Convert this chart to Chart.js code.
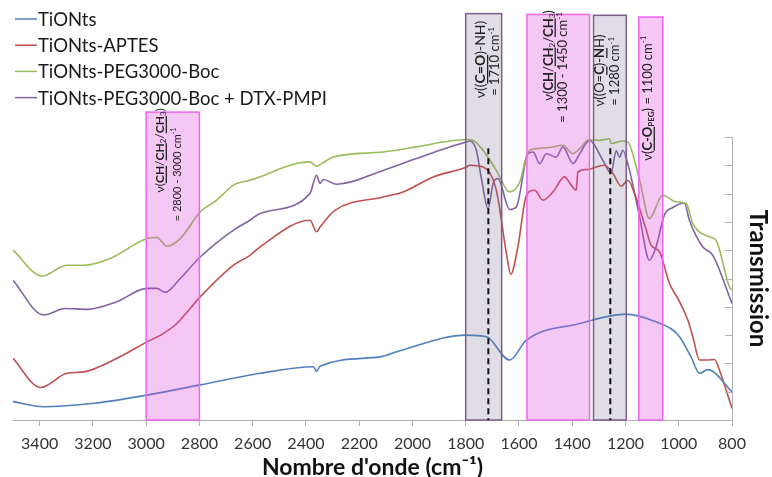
<!DOCTYPE html>
<html>
<head>
<meta charset="utf-8">
<script src="https://cdn.jsdelivr.net/npm/chart.js@4.4.1/dist/chart.umd.min.js"></script>
<style>
  html, body { margin: 0; padding: 0; background: #fff; }
</style>
</head>
<body>
<canvas id="myChart" width="772" height="477"></canvas>
<script>
// x axis tick labels (wavenumber, cm-1)
const xTicks = [3400, 3200, 3000, 2800, 2600, 2400, 2200, 2000, 1800, 1600, 1400, 1200, 1000, 800];

// TiONts (blue)
const tiontsWn = [3500, 3385, 3197, 2997, 2797, 2572, 2372, 2360, 2347, 2122, 2047, 1797, 1722, 1635, 1572, 1372, 1197, 1085, 1022, 997, 954, 922, 891, 800];
const tiontsT  = [0.65, 0.47, 0.59, 0.88, 1.24, 1.65, 1.88, 1.72, 1.90, 2.23, 2.45, 3.00, 2.94, 2.12, 2.82, 3.41, 3.74, 3.47, 3.18, 2.94, 2.23, 1.65, 1.78, 1.00];

// TiONts-APTES (red)
const aptesWn = [3500, 3397, 3297, 3235, 3110, 2997, 2935, 2885, 2797, 2672, 2610, 2572, 2385, 2360, 2347, 2291, 2110, 2035, 1922, 1797, 1785, 1735, 1685, 1647, 1631, 1604, 1572, 1541, 1510, 1472, 1429, 1404, 1385, 1379, 1347, 1280, 1247, 1216, 1191, 1166, 1122, 1104, 1072, 1035, 997, 966, 947, 922, 891, 866, 847, 800];
const aptesT  = [2.18, 1.15, 1.65, 1.70, 2.18, 2.76, 3.06, 3.41, 4.35, 5.47, 5.82, 6.12, 7.06, 6.65, 6.82, 7.41, 7.88, 8.06, 8.59, 8.94, 9.00, 8.94, 8.12, 5.88, 5.15, 6.12, 7.94, 8.12, 7.77, 8.06, 8.59, 8.30, 8.12, 8.76, 8.85, 9.00, 8.71, 8.26, 8.47, 8.00, 6.71, 6.18, 5.94, 4.83, 4.18, 3.53, 2.94, 2.12, 2.12, 2.14, 1.76, 0.41];

// TiONts-PEG3000-Boc (green)
const pegWn = [3500, 3391, 3297, 3235, 3135, 2997, 2960, 2922, 2872, 2797, 2735, 2672, 2610, 2385, 2360, 2341, 2297, 2110, 1985, 1880, 1797, 1772, 1735, 1685, 1635, 1597, 1566, 1535, 1485, 1435, 1397, 1372, 1335, 1297, 1260, 1254, 1210, 1191, 1147, 1110, 1060, 1010, 972, 947, 885, 860, 810, 800];
const pegT  = [6.00, 5.09, 5.47, 5.47, 5.71, 6.41, 6.45, 6.14, 6.41, 7.35, 7.77, 8.30, 8.47, 9.12, 8.97, 9.06, 9.29, 9.47, 9.65, 9.83, 9.91, 9.88, 9.53, 8.82, 8.06, 8.41, 9.47, 9.59, 9.63, 9.71, 9.41, 9.59, 9.91, 9.88, 9.94, 9.77, 9.86, 9.82, 8.47, 7.12, 7.94, 7.71, 7.65, 6.94, 6.47, 6.35, 4.71, 4.59];

// TiONts-PEG3000-Boc + DTX-PMPI (purple)
const dtxWn = [3500, 3385, 3304, 3222, 3110, 2997, 2960, 2929, 2872, 2797, 2672, 2610, 2572, 2385, 2360, 2347, 2335, 2285, 2110, 1985, 1860, 1797, 1785, 1760, 1741, 1716, 1697, 1679, 1635, 1610, 1566, 1547, 1522, 1497, 1460, 1435, 1397, 1372, 1335, 1285, 1254, 1235, 1222, 1210, 1185, 1147, 1110, 1085, 1054, 1022, 979, 960, 910, 872, 800];
const dtxT  = [4.94, 3.71, 3.94, 3.91, 4.18, 4.65, 4.65, 4.51, 5.00, 5.76, 6.71, 7.06, 7.30, 8.00, 8.65, 8.36, 8.50, 8.33, 8.82, 9.24, 9.65, 9.82, 9.86, 9.53, 8.53, 7.47, 8.36, 8.53, 7.44, 7.53, 9.41, 9.47, 9.06, 9.41, 9.29, 9.65, 9.06, 9.41, 9.88, 9.18, 8.71, 9.51, 9.29, 9.53, 8.82, 7.18, 5.65, 6.12, 7.24, 7.51, 7.67, 7.06, 6.12, 5.82, 4.12];

const seriesNames = ['TiONts', 'TiONts-APTES', 'TiONts-PEG3000-Boc', 'TiONts-PEG3000-Boc + DTX-PMPI'];
const seriesColors = ['#4F81BD', '#C0504D', '#9BBB59', '#8064A2'];

// highlighted bands [from, to, top] in axis units, kind = magenta / gray
const bands = [
  { from: 3000, to: 2800, top: 10.88, kind: 'magenta' },
  { from: 1800, to: 1665, top: 14.36, kind: 'gray' },
  { from: 1570, to: 1335, top: 14.33, kind: 'magenta' },
  { from: 1320, to: 1197, top: 14.30, kind: 'gray' },
  { from: 1150, to: 1060, top: 14.24, kind: 'magenta' }
];
const dashedAt = [1715, 1257];
const dashedTop = 9.6;

// band labels : x, y = centre of the rotated line, in axis units
const sub = t => ({ t, s: 'sub' });
const sup = t => ({ t, s: 'sup' });
const bu = t => ({ t, b: true, u: true });
const bandLabels = [
  { x: 2950, y: 9.53, size: 12, parts: [{ t: 'ν(' }, bu('CH'), { t: '/' }, bu('CH'), sub('2'), { t: '/' }, bu('CH'), sub('3'), { t: ')' }] },
  { x: 2884, y: 8.68, size: 11, parts: [{ t: '= 2800 - 3000 cm' }, sup('-1')] },
  { x: 1746, y: 12.74, size: 14, parts: [{ t: 'ν((' }, bu('C=O'), { t: ')-NH)' }] },
  { x: 1691, y: 12.67, size: 13, parts: [{ t: '= 1710 cm' }, sup('-1')] },
  { x: 1491, y: 12.88, size: 13, parts: [{ t: 'ν(' }, bu('CH'), { t: '/' }, bu('CH'), sub('2'), { t: '/' }, bu('CH'), sub('3'), { t: ')' }] },
  { x: 1436, y: 12.46, size: 13, parts: [{ t: '= 1300 - 1450 cm' }, sup('-1')] },
  { x: 1297, y: 12.35, size: 13, parts: [{ t: 'ν((O=' }, bu('C'), { t: ')-' }, bu('N'), { t: 'H)' }] },
  { x: 1242, y: 12.32, size: 13, parts: [{ t: '= 1280 cm' }, sup('-1')] },
  { x: 1119, y: 11.37, size: 13, parts: [{ t: 'ν(' }, bu('C-O'), { t: 'PEG', s: 'sub', b: true }, { t: ') = 1100 cm' }, sup('-1')] }
];

const FONT = 'Lato, "Open Sans", sans-serif';

function zip(xs, ys) {
  return xs.map((x, i) => ({ x: x, y: ys[i] }));
}

function drawRich(ctx, parts, cx, cy, size) {
  const fontFor = p => (p.b ? 'bold ' : '') + (p.s ? Math.round(size * 0.65) : size) + 'px ' + FONT;
  let total = 0;
  parts.forEach(p => {
    ctx.font = fontFor(p);
    p.w = ctx.measureText(p.t).width;
    total += p.w;
  });
  ctx.save();
  ctx.translate(cx, cy);
  ctx.rotate(-Math.PI / 2);
  ctx.textBaseline = 'alphabetic';
  ctx.fillStyle = '#222';
  let x = -total / 2;
  const base = size * 0.35;
  parts.forEach(p => {
    ctx.font = fontFor(p);
    let dy = base;
    if (p.s === 'sub') dy = base + size * 0.2;
    if (p.s === 'sup') dy = base - size * 0.4;
    ctx.fillText(p.t, x, dy);
    if (p.u) ctx.fillRect(x, base + 2, p.w, 1.3);
    x += p.w;
  });
  ctx.restore();
}

const annotations = {
  id: 'annotations',
  afterDatasetsDraw(chart) {
    const ctx = chart.ctx;
    const xs = chart.scales.x, ys = chart.scales.y;
    const bottom = ys.getPixelForValue(0);
    ctx.save();
    // bands
    bands.forEach(b => {
      const x1 = xs.getPixelForValue(b.from), x2 = xs.getPixelForValue(b.to);
      const top = ys.getPixelForValue(b.top);
      ctx.fillStyle = b.kind === 'magenta' ? 'rgba(220, 70, 220, 0.30)' : 'rgba(120, 100, 140, 0.22)';
      ctx.strokeStyle = b.kind === 'magenta' ? '#EE66EE' : '#7A5C8E';
      ctx.lineWidth = 1.5;
      ctx.fillRect(x1, top, x2 - x1, bottom - top);
      ctx.strokeRect(x1, top, x2 - x1, bottom - top);
    });
    // dashed marker lines
    ctx.strokeStyle = '#111';
    ctx.lineWidth = 2;
    ctx.setLineDash([6, 4]);
    dashedAt.forEach(w => {
      const x = xs.getPixelForValue(w);
      ctx.beginPath();
      ctx.moveTo(x, ys.getPixelForValue(dashedTop));
      ctx.lineTo(x, bottom);
      ctx.stroke();
    });
    ctx.setLineDash([]);
    // labels
    bandLabels.forEach(l => drawRich(ctx, l.parts, xs.getPixelForValue(l.x), ys.getPixelForValue(l.y), l.size));
    // inward tick marks on the right axis
    ctx.strokeStyle = '#b0b0b0';
    ctx.lineWidth = 1;
    ys.ticks.forEach(t => {
      const y = Math.round(ys.getPixelForValue(t.value)) + 0.5;
      ctx.beginPath();
      ctx.moveTo(ys.left - 7, y);
      ctx.lineTo(ys.left, y);
      ctx.stroke();
    });
    // legend, top left
    chart.data.datasets.forEach((ds, i) => {
      const y = 19 + i * 26.2;
      ctx.strokeStyle = ds.borderColor;
      ctx.lineWidth = 1.5;
      ctx.beginPath();
      ctx.moveTo(15, y);
      ctx.lineTo(37, y);
      ctx.stroke();
      ctx.fillStyle = '#1a1a1a';
      ctx.font = '18.5px ' + FONT;
      ctx.textBaseline = 'middle';
      ctx.fillText(ds.label, 38, y + 1);
    });
    ctx.restore();
  }
};

const ctx = document.getElementById('myChart');
const chart = new Chart(ctx, {
  type: 'line',
  data: {
    datasets: [
      { label: seriesNames[0], data: zip(tiontsWn, tiontsT), borderColor: seriesColors[0] },
      { label: seriesNames[1], data: zip(aptesWn, aptesT), borderColor: seriesColors[1] },
      { label: seriesNames[2], data: zip(pegWn, pegT), borderColor: seriesColors[2] },
      { label: seriesNames[3], data: zip(dtxWn, dtxT), borderColor: seriesColors[3] }
    ]
  },
  options: {
    responsive: false,
    animation: false,
    layout: { padding: { left: 13, top: 137, right: 0, bottom: 0 } },
    elements: {
      point: { radius: 0 },
      line: { borderWidth: 1.6, cubicInterpolationMode: 'monotone', fill: false }
    },
    plugins: {
      legend: { display: false },
      tooltip: { enabled: false }
    },
    scales: {
      x: {
        type: 'linear',
        reverse: true,
        min: 800,
        max: 3500,
        afterBuildTicks: s => { s.ticks = xTicks.map(v => ({ value: v })); },
        afterFit: s => { s.height = 57; },
        grid: { drawOnChartArea: false, drawTicks: true, tickLength: 6, color: '#b0b0b0' },
        border: { color: '#b0b0b0' },
        ticks: {
          font: { family: FONT, size: 16 },
          color: '#333',
          padding: 8,
          maxRotation: 0,
          autoSkip: false,
          callback: v => String(v)
        },
        title: {
          display: true,
          text: "Nombre d'onde (cm⁻¹)",
          font: { family: FONT, size: 23, weight: 'bold' },
          color: '#111',
          padding: { top: 0, bottom: -4 }
        }
      },
      y: {
        position: 'right',
        min: 0,
        max: 10,
        afterFit: s => { s.width = 40; },
        ticks: { display: false, stepSize: 1 },
        grid: { display: false },
        border: { display: true, color: '#b0b0b0' },
        title: {
          display: true,
          text: 'Transmission',
          font: { family: FONT, size: 24, weight: 'bold' },
          color: '#111',
          padding: 0
        }
      }
    }
  },
  plugins: [annotations]
});
</script>
</body>
</html>
